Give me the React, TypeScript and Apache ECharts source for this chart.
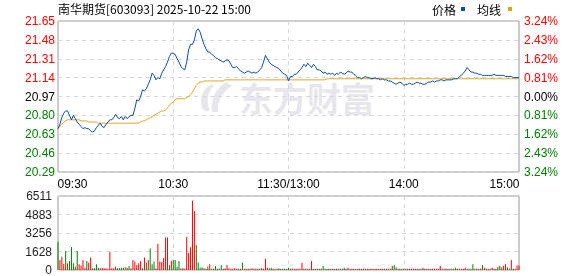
import React, { useEffect, useRef } from 'react';
import * as echarts from 'echarts';

const titleText = '南华期货[603093] 2025-10-22 15:00';
const legendNames = ['价格', '均线'];
const watermarkText = '东方财富';

const prevClose = 20.97;
const priceMin = 20.29;
const priceMax = 21.65;
const priceStep = 0.17;
const pctMax = 3.24;
const pctStep = 0.81;
const volMax = 6511;

const xTickIndex = [0, 60, 120, 180, 240];
const xTickLabels = ['09:30', '10:30', '11:30/13:00', '14:00', '15:00'];
const vGridIndex = [60, 120, 180];

const price = [
  20.68, 20.72, 20.78, 20.82, 20.84, 20.84, 20.80, 20.76, 20.80, 20.77,
  20.74, 20.72, 20.70, 20.68, 20.69, 20.68, 20.68, 20.66, 20.65, 20.66,
  20.69, 20.71, 20.73, 20.70, 20.69, 20.72, 20.74, 20.76, 20.76, 20.78,
  20.81, 20.78, 20.77, 20.79, 20.76, 20.79, 20.77, 20.79, 20.80, 20.80,
  20.86, 20.94, 20.93, 20.97, 21.03, 21.02, 21.04, 21.08, 21.12, 21.18,
  21.16, 21.12, 21.14, 21.13, 21.18, 21.21, 21.24, 21.28, 21.33, 21.36,
  21.36, 21.35, 21.31, 21.28, 21.24, 21.22, 21.21, 21.28, 21.39, 21.44,
  21.44, 21.48, 21.56, 21.58, 21.55, 21.49, 21.44, 21.40, 21.37, 21.37,
  21.35, 21.34, 21.32, 21.31, 21.30, 21.29, 21.28, 21.29, 21.30, 21.29,
  21.26, 21.23, 21.23, 21.24, 21.22, 21.20, 21.19, 21.18, 21.19, 21.20,
  21.19, 21.18, 21.19, 21.18, 21.19, 21.21, 21.23, 21.28, 21.34, 21.31,
  21.28, 21.26, 21.25, 21.24, 21.23, 21.22, 21.20, 21.18, 21.17, 21.16,
  21.11, 21.15, 21.15, 21.17, 21.17, 21.19, 21.21, 21.23, 21.26, 21.24,
  21.27, 21.25, 21.23, 21.26, 21.24, 21.21, 21.21, 21.20, 21.18, 21.19,
  21.17, 21.18, 21.17, 21.18, 21.16, 21.18, 21.17, 21.19, 21.18, 21.17,
  21.18, 21.20, 21.19, 21.19, 21.17, 21.16, 21.14, 21.14, 21.13, 21.14,
  21.15, 21.14, 21.14, 21.13, 21.13, 21.14, 21.13, 21.13, 21.12, 21.13,
  21.12, 21.12, 21.11, 21.11, 21.10, 21.09, 21.08, 21.09, 21.10, 21.09,
  21.07, 21.08, 21.08, 21.09, 21.08, 21.08, 21.09, 21.10, 21.09, 21.09,
  21.08, 21.08, 21.09, 21.10, 21.10, 21.11, 21.10, 21.11, 21.11, 21.12,
  21.12, 21.11, 21.12, 21.12, 21.12, 21.12, 21.13, 21.13, 21.13, 21.15,
  21.16, 21.18, 21.20, 21.23, 21.21, 21.19, 21.19, 21.18, 21.18, 21.17,
  21.17, 21.16, 21.16, 21.16, 21.16, 21.16, 21.16, 21.17, 21.16, 21.16,
  21.16, 21.16, 21.16, 21.15, 21.15, 21.15, 21.15, 21.14, 21.14, 21.14,
  21.14,
];

const avgPrice = [
  20.68, 20.70, 20.72, 20.74, 20.75, 20.76, 20.76, 20.76, 20.76, 20.76,
  20.76, 20.76, 20.75, 20.75, 20.75, 20.75, 20.74, 20.74, 20.74, 20.74,
  20.74, 20.73, 20.73, 20.73, 20.73, 20.73, 20.73, 20.73, 20.73, 20.73,
  20.73, 20.73, 20.73, 20.73, 20.73, 20.73, 20.73, 20.73, 20.73, 20.73,
  20.73, 20.73, 20.73, 20.74, 20.75, 20.75, 20.76, 20.77, 20.78, 20.79,
  20.80, 20.81, 20.82, 20.83, 20.84, 20.84, 20.85, 20.87, 20.89, 20.91,
  20.92, 20.94, 20.95, 20.95, 20.95, 20.95, 20.95, 20.96, 20.97, 20.99,
  21.01, 21.04, 21.07, 21.09, 21.10, 21.10, 21.11, 21.11, 21.11, 21.11,
  21.11, 21.11, 21.11, 21.11, 21.11, 21.11, 21.11, 21.12, 21.12, 21.12,
  21.12, 21.12, 21.12, 21.12, 21.12, 21.12, 21.12, 21.12, 21.12, 21.12,
  21.12, 21.12, 21.12, 21.12, 21.12, 21.12, 21.12, 21.12, 21.12, 21.12,
  21.12, 21.12, 21.12, 21.12, 21.12, 21.12, 21.12, 21.12, 21.12, 21.12,
  21.12, 21.12, 21.12, 21.12, 21.12, 21.12, 21.12, 21.12, 21.12, 21.12,
  21.12, 21.12, 21.12, 21.12, 21.12, 21.12, 21.12, 21.12, 21.12, 21.12,
  21.13, 21.13, 21.13, 21.13, 21.13, 21.13, 21.13, 21.13, 21.13, 21.13,
  21.13, 21.13, 21.13, 21.13, 21.13, 21.13, 21.13, 21.13, 21.13, 21.13,
  21.13, 21.13, 21.13, 21.13, 21.13, 21.13, 21.13, 21.13, 21.13, 21.13,
  21.13, 21.13, 21.13, 21.13, 21.13, 21.13, 21.13, 21.13, 21.13, 21.13,
  21.13, 21.13, 21.13, 21.13, 21.13, 21.13, 21.13, 21.13, 21.13, 21.13,
  21.13, 21.13, 21.13, 21.13, 21.13, 21.13, 21.13, 21.13, 21.13, 21.13,
  21.13, 21.13, 21.13, 21.13, 21.13, 21.13, 21.13, 21.13, 21.13, 21.13,
  21.13, 21.13, 21.13, 21.13, 21.13, 21.13, 21.13, 21.13, 21.13, 21.13,
  21.13, 21.13, 21.13, 21.13, 21.13, 21.13, 21.13, 21.13, 21.13, 21.13,
  21.13, 21.13, 21.13, 21.13, 21.13, 21.13, 21.13, 21.13, 21.13, 21.13,
  21.13,
];

const volume = [
  2490, 880, 1170, 530, 1670, 600, 800, 2020, 600, 290,
  1670, 500, 400, 880, 200, 800, 640, 1100, 150, 150,
  500, 200, 150, 200, 150, 150, 120, 1610, 150, 150,
  290, 150, 150, 200, 200, 250, 200, 350, 150, 880,
  750, 450, 600, 800, 150, 1100, 650, 880, 1900, 500,
  750, 150, 2300, 750, 700, 1050, 2850, 2850, 450, 800,
  880, 880, 290, 800, 150, 150, 100, 2900, 1500, 2000,
  6100, 5200, 2200, 650, 200, 250, 150, 100, 300, 500,
  100, 100, 350, 100, 100, 450, 100, 150, 450, 150,
  120, 100, 150, 100, 120, 100, 650, 120, 100, 100,
  120, 150, 100, 100, 120, 100, 150, 120, 1000, 200,
  150, 200, 100, 120, 100, 150, 100, 120, 100, 100,
  200, 100, 100, 120, 100, 100, 120, 640, 100, 100,
  100, 120, 790, 100, 100, 120, 100, 100, 350, 120,
  100, 100, 120, 100, 100, 100, 120, 100, 100, 200,
  100, 200, 100, 120, 100, 100, 100, 120, 100, 100,
  120, 100, 100, 100, 120, 100, 100, 100, 120, 100,
  100, 120, 100, 100, 350, 440, 250, 100, 100, 120,
  100, 100, 120, 100, 100, 100, 120, 100, 100, 100,
  200, 100, 100, 120, 100, 100, 120, 100, 100, 350,
  100, 120, 100, 100, 120, 100, 100, 200, 100, 100,
  120, 100, 200, 100, 120, 100, 500, 100, 120, 100,
  100, 440, 200, 100, 120, 100, 200, 100, 100, 290,
  380, 250, 380, 500, 250, 100, 880, 100, 100, 400,
  400,
];

// r = up (red), g = down (green)
const volumeDir = (
  'grrrgrgggr' + 'grrrrgrrgg' + 'ggrrrrrrrr' + 'rggggrggrr' + 'rrrrgrgrgg' +
  'grrrrrrrgr' + 'ggggrrrrrr' + 'rrggggrrgr' + 'grggrggrrr' + 'rrrrgrgrrr' +
  'grrrgrrrrr' + 'ggrgrggrgg' + 'grrgrrrrrg' + 'rrrggrgrgg' + 'grgrgrgrgg' +
  'rrgrrgrrgr' + 'rgrrgrrgrr' + 'grrrggrgrg' + 'rgrrgrrgrr' + 'grrgrrgrrr' +
  'rgrrgrggrr' + 'rrrgrggrrg' + 'rgrrgrrrgg' + 'rgrrgrrgrr' + 'r'
).split('');

const RED = '#ff0000';
const GREEN = '#008000';
const PRICE_COLOR = '#0b4ea2';
const AVG_COLOR = '#e0a21e';
const FONT = '"Liberation Sans", Arial, sans-serif';
const CJK = '"Noto Sans CJK SC", sans-serif';

const minutes: string[] = [];
for (let i = 0; i <= 240; i++) {
  const m = i <= 120 ? 570 + i : 780 + (i - 120);
  const h = Math.floor(m / 60);
  const mm = m % 60;
  minutes.push(String(h).padStart(2, '0') + ':' + String(mm).padStart(2, '0'));
}

let registered = false;
function registerLogo() {
  if (registered) return;
  registered = true;
  const d =
    'M14 2 C5 6 1 16 4 26 C6 30 10 30 12 28 C8 20 9 10 16 4 Z ' +
    'M28 0 C18 6 12 18 14 30 L20 30 C19 20 24 10 34 4 Z';
  echarts.graphic.registerShape('emLogo', echarts.graphic.extendPath(d, {}));
}

const dashed = { color: '#d6d6d6', type: [4, 4] as any, width: 1 };

export default function App() {
  const ref = useRef<HTMLDivElement>(null);
  useEffect(() => {
    if (!ref.current) return;
    registerLogo();
    const chart = echarts.init(ref.current, null, { renderer: 'svg' });
    const priceColor = (v: any) => {
      const n = Number(v);
      if (n > prevClose + 0.001) return RED;
      if (n < prevClose - 0.001) return GREEN;
      return '#000';
    };
    const pctColor = (v: any) => {
      const n = Number(v);
      if (n > 0.001) return RED;
      if (n < -0.001) return GREEN;
      return '#000';
    };
    const option: any = {
      animation: false,
      grid: [
        { left: 58, top: 21, width: 461, height: 151, show: true, borderColor: '#999', borderWidth: 1, backgroundColor: 'transparent' },
        { left: 58, top: 196, width: 461, height: 74, show: true, borderColor: '#999', borderWidth: 1, backgroundColor: 'transparent' },
      ],
      xAxis: [
        {
          type: 'category', gridIndex: 0, data: minutes, boundaryGap: false,
          axisLine: { show: false }, axisTick: { show: false },
          axisLabel: {
            interval: (idx: number) => xTickIndex.includes(idx),
            formatter: (_v: string, idx: number) => {
              const k = xTickIndex.indexOf(idx);
              const t = k >= 0 ? xTickLabels[k] : '';
              if (k === 0) return '{l|' + t + '}';
              if (k === xTickIndex.length - 1) return '{r|' + t + '}';
              return t;
            },
            color: '#000', fontSize: 12, fontFamily: FONT, margin: 6,
            rich: {
              l: { padding: [0, 0, 0, 29], color: '#000', fontSize: 12, fontFamily: FONT },
              r: { padding: [0, 29, 0, 0], color: '#000', fontSize: 12, fontFamily: FONT },
            },
          },
          splitLine: { show: true, interval: (idx: number) => vGridIndex.includes(idx), lineStyle: dashed },
        },
        {
          type: 'category', gridIndex: 1, data: minutes, boundaryGap: false,
          axisLine: { show: false }, axisTick: { show: false }, axisLabel: { show: false },
          splitLine: { show: true, interval: (idx: number) => vGridIndex.includes(idx), lineStyle: dashed },
        },
      ],
      yAxis: [
        {
          type: 'value', gridIndex: 0, position: 'left', min: priceMin, max: priceMax, interval: priceStep,
          axisLine: { show: false }, axisTick: { show: false },
          axisLabel: { formatter: (v: number) => Number(v).toFixed(2), color: priceColor, fontSize: 12, fontFamily: FONT, margin: 3 },
          splitLine: { show: true, lineStyle: dashed },
        },
        {
          type: 'value', gridIndex: 0, position: 'right', min: -pctMax, max: pctMax, interval: pctStep,
          axisLine: { show: false }, axisTick: { show: false },
          axisLabel: { formatter: (v: number) => Math.abs(Number(v)).toFixed(2) + '%', color: pctColor, fontSize: 12, fontFamily: FONT, margin: 5 },
          splitLine: { show: false },
        },
        {
          type: 'value', gridIndex: 1, position: 'left', min: 0, max: volMax, interval: volMax / 4,
          axisLine: { show: false }, axisTick: { show: false },
          axisLabel: { formatter: (v: number) => String(Math.round(Number(v))), color: '#222', fontSize: 12, fontFamily: FONT, margin: 6 },
          splitLine: { show: true, lineStyle: dashed },
        },
      ],
      series: [
        {
          name: legendNames[1], type: 'line', xAxisIndex: 0, yAxisIndex: 0, data: avgPrice,
          symbol: 'none', lineStyle: { color: AVG_COLOR, width: 1 }, z: 3,
        },
        {
          name: legendNames[0], type: 'line', xAxisIndex: 0, yAxisIndex: 0, data: price,
          symbol: 'none', lineStyle: { color: PRICE_COLOR, width: 1 }, z: 4,
        },
        {
          name: '成交量', type: 'bar', xAxisIndex: 1, yAxisIndex: 2, barWidth: 1,
          data: volume.map((v, i) => ({ value: v, itemStyle: { color: volumeDir[i] === 'r' ? RED : GREEN } })),
        },
      ],
      graphic: [
        { type: 'text', left: 58, top: 2, style: { text: titleText, fontSize: 12, fontFamily: CJK, fill: '#000' } },
        { type: 'text', x: 432, y: 9, style: { text: legendNames[0], fontSize: 12, fontFamily: CJK, fill: '#000', verticalAlign: 'middle' } },
        { type: 'rect', shape: { x: 461, y: 7, width: 4, height: 4 }, style: { fill: PRICE_COLOR } },
        { type: 'text', x: 477, y: 9, style: { text: legendNames[1], fontSize: 12, fontFamily: CJK, fill: '#000', verticalAlign: 'middle' } },
        { type: 'rect', shape: { x: 508, y: 7, width: 4, height: 4 }, style: { fill: AVG_COLOR } },
        { type: 'emLogo', x: 198, y: 82, scaleX: 1, scaleY: 1, z: -1, style: { fill: '#e6e6ec' } },
        { type: 'text', x: 239, y: 97, z: -1, style: { text: watermarkText, fontSize: 34, fontWeight: 'bold', fontFamily: CJK, fill: '#e6e6ec', verticalAlign: 'middle' } },
      ],
    };
    chart.setOption(option);
    return () => chart.dispose();
  }, []);
  return <div ref={ref} style={{ position: 'fixed', left: 0, top: 0, width: 578, height: 276 }} />;
}
